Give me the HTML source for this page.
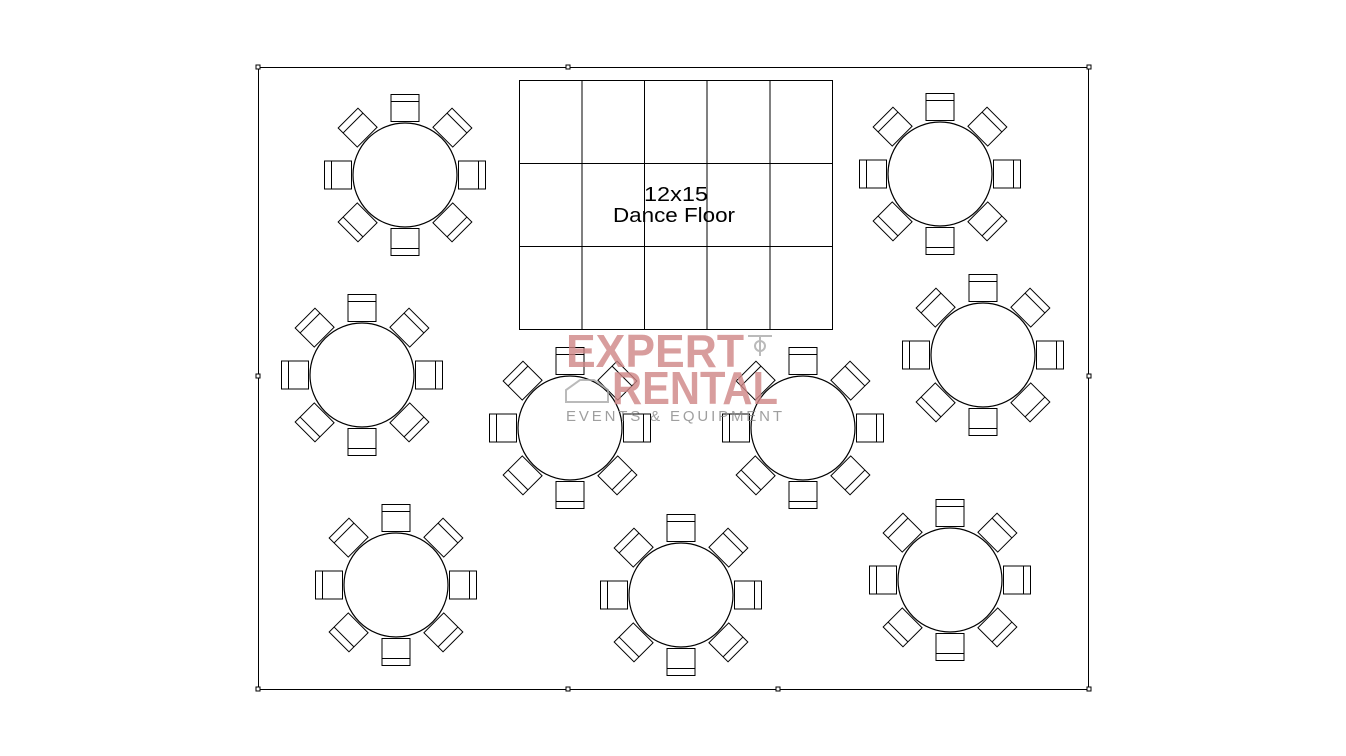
<!DOCTYPE html>
<html><head><meta charset="utf-8"><style>
html,body{margin:0;padding:0;background:#fff;}
svg{display:block}
</style></head><body>
<svg width="1346" height="756" viewBox="0 0 1346 756" xmlns="http://www.w3.org/2000/svg">
<defs>
<g id="ch" fill="#fff" stroke="#000" stroke-width="1">
<rect x="-14" y="-80.5" width="28" height="27"/>
<line x1="-14" y1="-73.5" x2="14" y2="-73.5"/>
</g>
<g id="tb">
<use href="#ch"/>
<use href="#ch" transform="rotate(45)"/>
<use href="#ch" transform="rotate(90)"/>
<use href="#ch" transform="rotate(135)"/>
<use href="#ch" transform="rotate(180)"/>
<use href="#ch" transform="rotate(225)"/>
<use href="#ch" transform="rotate(270)"/>
<use href="#ch" transform="rotate(315)"/>
<circle r="52" fill="#fff" stroke="#000" stroke-width="1.2"/>
</g>
</defs>
<rect x="258.5" y="67.5" width="830" height="622" fill="none" stroke="#000"/>
<g fill="#fff" stroke="#000">
<rect x="256" y="65" width="4" height="4"/><rect x="566" y="65" width="4" height="4"/><rect x="1087" y="65" width="4" height="4"/>
<rect x="256" y="687" width="4" height="4"/><rect x="566" y="687" width="4" height="4"/><rect x="776" y="687" width="4" height="4"/><rect x="1087" y="687" width="4" height="4"/>
<rect x="256" y="374" width="4" height="4"/><rect x="1087" y="374" width="4" height="4"/>
</g>
<g fill="none" stroke="#000">
<rect x="519.5" y="80.5" width="313" height="249"/>
<line x1="582" y1="80" x2="582" y2="330"/><line x1="644.5" y1="80" x2="644.5" y2="330"/>
<line x1="707" y1="80" x2="707" y2="330"/><line x1="770" y1="80" x2="770" y2="330"/>
<line x1="519" y1="163.5" x2="833" y2="163.5"/><line x1="519" y1="246.5" x2="833" y2="246.5"/>
</g>
<text x="644" y="201" font-family="Liberation Sans, sans-serif" font-size="20" textLength="64" lengthAdjust="spacingAndGlyphs">12x15</text>
<text x="613" y="222" font-family="Liberation Sans, sans-serif" font-size="20" textLength="122" lengthAdjust="spacingAndGlyphs">Dance Floor</text>
<use href="#tb" x="405" y="175"/>
<use href="#tb" x="940" y="174"/>
<use href="#tb" x="362" y="375"/>
<use href="#tb" x="983" y="355"/>
<use href="#tb" x="570" y="428"/>
<use href="#tb" x="803" y="428"/>
<use href="#tb" x="396" y="585"/>
<use href="#tb" x="681" y="595"/>
<use href="#tb" x="950" y="580"/>
<g opacity="0.8">
<text x="566" y="367" font-family="Liberation Sans, sans-serif" font-size="46" font-weight="bold" fill="#cf8585" textLength="178" lengthAdjust="spacingAndGlyphs">EXPERT</text>
<text x="612" y="404" font-family="Liberation Sans, sans-serif" font-size="46" font-weight="bold" fill="#cf8585" textLength="166" lengthAdjust="spacingAndGlyphs">RENTAL</text>
<text x="566" y="421" font-family="Liberation Sans, sans-serif" font-size="15" fill="#888" textLength="216" lengthAdjust="spacing">EVENTS &amp; EQUIPMENT</text>
<g fill="none" stroke="#aaa" stroke-width="2">
<path d="M566 402 L566 390 L580 380 L594 380 L608 390 L608 402 Z"/>
<line x1="748" y1="336" x2="772" y2="336"/><line x1="760" y1="336" x2="760" y2="356"/>
<circle cx="760" cy="346" r="5"/>
</g>
</g>
</svg>
</body></html>
